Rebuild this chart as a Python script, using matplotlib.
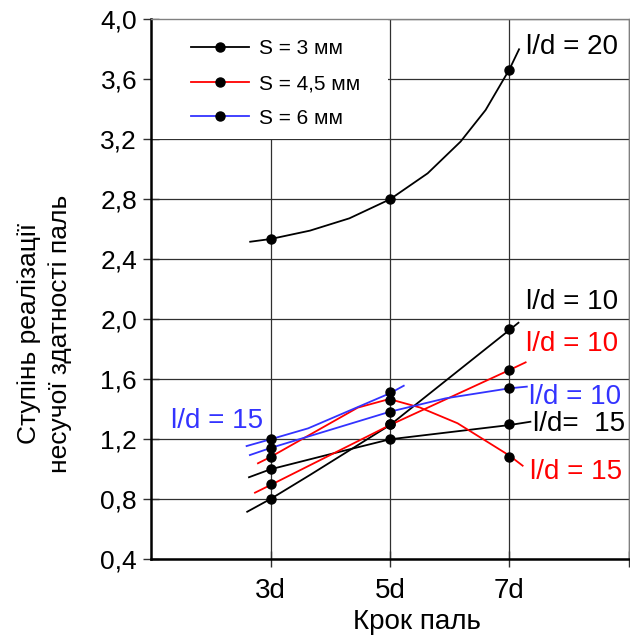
import numpy as np
import matplotlib.pyplot as plt
from matplotlib.lines import Line2D
from matplotlib.patches import Rectangle

plt.rcParams['font.family'] = ['Liberation Sans', 'DejaVu Sans']

# Measured points at pile spacing 3d, 5d, 7d
spacing = [3, 5, 7]
s3_ld20 = [2.53, 2.80, 3.66]
s3_ld15 = [1.00, 1.20, 1.30]
s3_ld10 = [0.80, 1.30, 1.93]
s45_ld15 = [1.08, 1.46, 1.08]
s45_ld10 = [0.90, 1.30, 1.66]
s6_ld15 = [1.20, 1.51]
s6_ld10 = [1.14, 1.38, 1.54]

# Trend curves as drawn on the original (vertices)
tr_s3_ld20_x = [2.66, 3.0, 3.66, 4.32, 5.0, 5.63, 6.18, 6.60, 7.0, 7.16]
tr_s3_ld20_y = [2.515, 2.533, 2.589, 2.671, 2.798, 2.971, 3.182, 3.393, 3.665, 3.798]
tr_s3_ld15_x = [2.64, 3.0, 4.16, 5.0, 7.0, 7.35]
tr_s3_ld15_y = [0.945, 0.998, 1.115, 1.198, 1.293, 1.315]
tr_s3_ld10_x = [2.61, 3.0, 3.66, 5.0, 7.0, 7.15]
tr_s3_ld10_y = [0.715, 0.80, 0.96, 1.293, 1.927, 1.975]
tr_s45_ld15_x = [2.79, 3.0, 4.46, 4.93, 5.0, 5.5, 6.13, 7.0, 7.22]
tr_s45_ld15_y = [1.038, 1.08, 1.409, 1.46, 1.465, 1.41, 1.305, 1.089, 1.022]
tr_s45_ld10_x = [2.74, 3.0, 5.0, 7.0, 7.27]
tr_s45_ld10_y = [0.842, 0.893, 1.293, 1.66, 1.711]
tr_s6_ld15_x = [2.60, 3.0, 3.63, 5.0, 5.23]
tr_s6_ld15_y = [1.153, 1.198, 1.271, 1.505, 1.555]
tr_s6_ld10_x = [2.655, 3.0, 5.0, 5.93, 7.0, 7.29]
tr_s6_ld10_y = [1.093, 1.14, 1.382, 1.471, 1.538, 1.549]

x_ticks = [3, 5, 7, 9]
x_ticklabels = ['3d', '5d', '7d', '']
y_ticks = [0.4, 0.8, 1.2, 1.6, 2.0, 2.4, 2.8, 3.2, 3.6, 4.0]
y_ticklabels = ['0,4', '0,8', '1,2', '1,6', '2,0', '2,4', '2,8', '3,2', '3,6', '4,0']

legend_labels = ['S = 3 мм', 'S = 4,5 мм', 'S = 6 мм']

# (text, x, y, colour)
curve_labels = [
    ('l/d = 20', 7.27, 3.81, 'black'),
    ('l/d = 10', 7.27, 2.11, 'black'),
    ('l/d = 10', 7.28, 1.83, 'red'),
    ('l/d = 10', 7.33, 1.48, '#3333ff'),
    ('l/d=  15', 7.40, 1.30, 'black'),
    ('l/d = 15', 7.34, 0.98, 'red'),
    ('l/d = 15', 1.33, 1.32, '#3333ff'),
]

BLUE = '#3333ff'
RED = '#ff0000'

fig = plt.figure(figsize=(6.3, 6.39), dpi=100)
ax = fig.add_axes([0.2397, 0.1252, 0.7587, 0.8451])

ax.set_xlim(1, 9)
ax.set_ylim(0.4, 4.0)
ax.set_axisbelow(True)
ax.grid(True, color='#303030', lw=0.9)

# white area behind the legend hides the grid there
ax.add_patch(Rectangle((1, 3.2), 3.97, 0.8, facecolor='white', edgecolor='none', zorder=1))

trends = [
    (tr_s3_ld20_x, tr_s3_ld20_y, 'black'),
    (tr_s3_ld15_x, tr_s3_ld15_y, 'black'),
    (tr_s3_ld10_x, tr_s3_ld10_y, 'black'),
    (tr_s45_ld15_x, tr_s45_ld15_y, RED),
    (tr_s45_ld10_x, tr_s45_ld10_y, RED),
    (tr_s6_ld15_x, tr_s6_ld15_y, BLUE),
    (tr_s6_ld10_x, tr_s6_ld10_y, BLUE),
]
for xs, ys, c in trends:
    ax.plot(xs, ys, color=c, lw=1.3, zorder=3)

for vals in [s3_ld20, s3_ld15, s3_ld10, s45_ld15, s45_ld10, s6_ld15, s6_ld10]:
    ax.plot(spacing[:len(vals)], vals, ls='none', marker='o', ms=6.5,
            mfc='black', mec='black', zorder=4)

for txt, x, y, c in curve_labels:
    ax.text(x, y, txt, color=c, fontsize=20, ha='left', va='center', zorder=5)

handles = [Line2D([], [], color=c, lw=1.3, marker='o', ms=6.5, mfc='black', mec='black')
           for c in ['black', RED, BLUE]]
ax.legend(handles, legend_labels, loc='upper left', bbox_to_anchor=(0.0837, 0.962),
          frameon=False, fontsize=15, handlelength=2.8, handletextpad=0.45,
          labelspacing=0.75, borderpad=0, borderaxespad=0)

ax.set_xticks(x_ticks)
ax.set_xticklabels(x_ticklabels, fontsize=20)
ax.set_yticks(y_ticks)
ax.set_yticklabels(y_ticklabels, fontsize=19)
ax.tick_params(direction='inout', length=12, width=1, color='#303030')
ax.tick_params(axis='y', pad=4)
ax.tick_params(axis='x', pad=8)

for side in ['left', 'bottom']:
    ax.spines[side].set_linewidth(1.8)
    ax.spines[side].set_color('black')
for side in ['top', 'right']:
    ax.spines[side].set_linewidth(1.0)
    ax.spines[side].set_color('#808080')

ax.set_xlabel('Крок паль', fontsize=20)
ax.xaxis.set_label_coords(0.556, -0.093)
ax.set_ylabel('Ступінь реалізації\nнесучої здатності паль', fontsize=19, linespacing=1.35)
ax.yaxis.set_label_coords(-0.165, 0.417)

fig.savefig('out.png', dpi=100)
